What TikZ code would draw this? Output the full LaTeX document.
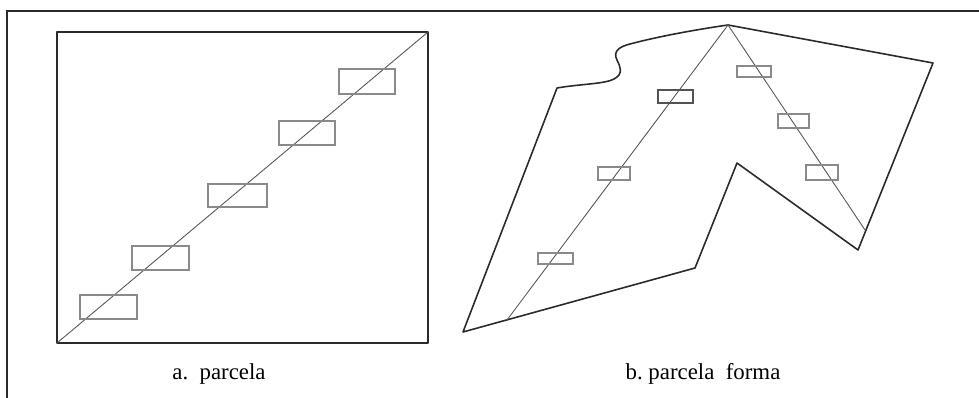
\documentclass[tikz,border=0pt]{standalone}
\usepackage{fontspec}
\setmainfont{Liberation Serif}
\usetikzlibrary{positioning, calc}
\definecolor{edgegray}{HTML}{2A2A2A}
\definecolor{boxgray}{HTML}{8A8A8A}
\definecolor{linegray}{HTML}{555555}

\begin{document}
\begin{tikzpicture}[x=0.02cm, y=-0.02cm,
    outline/.style={edgegray, line width=0.9pt, line join=round},
    transect/.style={linegray, line width=0.5pt},
    plotbox/.style={boxgray, line width=0.8pt},
    caption/.style={font=\fontsize{13}{15}\selectfont, text=black}]
    \useasboundingbox (0,0) rectangle (979,398);
    % page frame (only left and top edges visible)
    \draw[edgegray, line width=0.9pt] (7,398) -- (7,11) -- (979,11);

    % a. rectangular plot
    \coordinate (rbl) at (57,343);
    \coordinate (rtr) at (428,32);
    \draw[outline] (rbl) rectangle (rtr);
    \draw[edgegray, line width=1.6pt] (57,32) -- (rtr);
    \draw[transect] (rbl) -- (rtr);
    \foreach \xa/\ya/\xb/\yb in {80/295/137/319, 132/246/189/270, 208/184/267/207,
        279/121/335/145, 339/69/395/94}
      \draw[plotbox] (\xa,\ya) rectangle (\xb,\yb);
    \node[caption] (capa) at (219,374) {a.\ \ parcela};

    % b. irregular plot
    \coordinate (apex) at (728,25);
    \coordinate (rtop) at (933,63);
    \coordinate (rbot) at (858,250);
    \coordinate (notch) at (737,163);
    \coordinate (bmid) at (695,268);
    \coordinate (bleft) at (463,332);
    \coordinate (lup) at (557,88);
    \draw[outline] (apex) -- (rtop) -- (rbot) -- (notch) -- (bmid) -- (bleft) -- (lup)
      .. controls (580,84) and (605,84) .. (614,79)
      .. controls (624,74) and (620,66) .. (617,60)
      .. controls (613,52) and (618,47) .. (630,44)
      .. controls (660,36) and (700,29) .. (apex);
    \coordinate (tl) at (507,320);
    \coordinate (tr) at (865,230);
    \draw[transect] (apex) -- (tl);
    \draw[transect] (apex) -- (tr);
    \foreach \xa/\ya/\xb/\yb in {538/253/573/264, 598/167/630/180,
        737/66/771/77, 778/114/809/128, 806/165/838/180}
      \draw[plotbox] (\xa,\ya) rectangle (\xb,\yb);
    \draw[plotbox, boxgray!60!black, line width=1.1pt] (658,90) rectangle (693,103);
    \node[caption] (capb) at (703,374) {b.\ parcela\ \ forma};
\end{tikzpicture}
\end{document}
